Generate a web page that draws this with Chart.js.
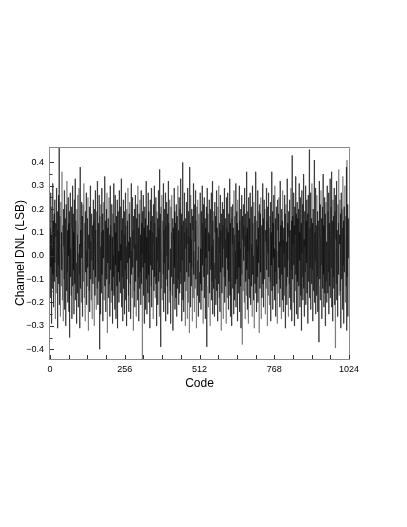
<!DOCTYPE html>
<html>
<head>
<meta charset="utf-8">
<title>Channel DNL</title>
<script src="https://cdn.jsdelivr.net/npm/chart.js@4/dist/chart.umd.min.js"></script>
<style>
  html, body { margin: 0; padding: 0; background: #fff; }
  canvas { display: block; }
</style>
</head>
<body>
<canvas id="dnl-chart" width="407" height="527"></canvas>
<script>
// Channel DNL per code (LSB), codes 0..1023
const dnl = [
  0.12, -0.18, 0.27, -0.05, 0.09, -0.29, 0.21, 0.03, -0.14, 0.31, -0.08, 0.15, -0.22, 0.06, 0.18, -0.11,
  0.24, -0.03, -0.27, 0.14, 0.08, -0.16, 0.29, -0.09, 0.02, 0.19, -0.31, 0.11, -0.04, 0.26, -0.12, 0.52,
  -0.21, 0.07, 0.17, -0.26, 0.05, 0.23, -0.13, 0.10, -0.06, 0.36, -0.19, 0.01, 0.13, -0.28, 0.20, 0.04,
  -0.10, 0.28, -0.23, 0.09, 0.16, -0.02, -0.30, 0.22, 0.06, -0.15, 0.32, -0.07, 0.11, -0.20, 0.25, 0.00,
  0.14, -0.24, 0.19, -0.35, 0.08, 0.27, -0.09, 0.03, -0.17, 0.21, 0.12, -0.27, 0.05, 0.30, -0.13, 0.18,
  -0.06, 0.10, -0.25, 0.24, 0.02, -0.12, 0.33, -0.19, 0.07, 0.15, -0.03, -0.29, 0.20, 0.09, -0.16, 0.26,
  0.01, -0.22, 0.13, 0.29, -0.08, 0.05, -0.31, 0.38, -0.14, 0.11, 0.04, -0.20, 0.23, -0.01, 0.17, -0.26,
  0.08, 0.22, -0.11, -0.03, 0.31, -0.18, 0.06, 0.14, -0.28, 0.19, -0.07, 0.10, 0.27, -0.21, 0.02, -0.13,
  0.16, -0.05, 0.25, -0.32, 0.09, 0.03, -0.15, 0.21, -0.24, 0.12, 0.30, -0.10, 0.06, -0.19, 0.18, -0.02,
  -0.27, 0.13, 0.07, -0.12, 0.24, -0.06, 0.15, -0.30, 0.20, 0.01, -0.17, 0.28, -0.09, 0.11, -0.23, 0.05,
  0.19, -0.14, 0.32, -0.04, -0.21, 0.09, 0.14, -0.11, 0.26, -0.07, -0.40, 0.17, 0.04, -0.25, 0.22, 0.10,
  -0.16, 0.29, -0.08, 0.02, 0.18, -0.28, 0.11, -0.01, 0.23, -0.19, 0.06, 0.34, -0.13, -0.05, 0.15, -0.24,
  0.07, 0.20, -0.10, 0.27, -0.33, 0.12, -0.03, 0.16, -0.18, 0.04, 0.25, -0.12, 0.09, -0.26, 0.30, -0.06,
  0.13, -0.20, 0.03, 0.22, -0.15, 0.08, -0.29, 0.18, 0.00, -0.09, 0.31, -0.17, 0.14, 0.05, -0.23, 0.26,
  -0.04, 0.10, -0.27, 0.17, 0.06, -0.13, 0.24, -0.31, 0.09, 0.19, -0.07, 0.02, -0.20, 0.28, -0.11, 0.12,
  0.21, -0.16, 0.05, -0.02, 0.33, -0.22, 0.11, -0.09, 0.16, -0.28, 0.07, 0.24, -0.14, 0.01, 0.19, -0.25,
  0.09, -0.06, 0.27, -0.19, 0.13, 0.04, -0.30, 0.20, -0.10, 0.15, -0.03, 0.29, -0.17, 0.06, -0.24, 0.18,
  -0.01, 0.23, -0.12, 0.08, -0.27, 0.14, 0.31, -0.08, 0.02, -0.18, 0.25, -0.05, 0.11, -0.32, 0.17, 0.03,
  -0.15, 0.20, -0.22, 0.10, 0.26, -0.11, 0.05, -0.26, 0.16, -0.02, 0.22, 0.07, -0.19, 0.30, -0.09, 0.12,
  -0.28, 0.18, 0.03, -0.14, 0.24, -0.07, 0.09, -0.21, 0.28, -0.12, 0.14, 0.01, -0.50, 0.19, -0.05, 0.26,
  -0.17, 0.07, 0.12, -0.29, 0.21, -0.03, 0.16, -0.23, 0.04, 0.32, -0.10, 0.08, -0.25, 0.13, 0.02, -0.16,
  0.27, -0.08, 0.19, -0.20, 0.06, 0.11, -0.31, 0.24, -0.04, 0.15, -0.13, 0.29, -0.22, 0.03, 0.17, -0.06,
  0.10, -0.27, 0.22, 0.05, -0.15, 0.30, -0.09, 0.14, -0.18, 0.01, 0.25, -0.12, 0.08, -0.30, 0.19, -0.02,
  0.16, -0.21, 0.06, 0.28, -0.11, 0.12, -0.26, 0.37, -0.07, 0.18, 0.02, -0.39, 0.21, -0.14, 0.09, 0.26,
  -0.19, 0.04, 0.15, -0.08, 0.31, -0.24, 0.11, -0.03, 0.20, -0.16, 0.07, 0.27, -0.28, 0.13, -0.10, 0.23,
  0.00, -0.13, 0.18, -0.25, 0.09, 0.32, -0.06, 0.14, -0.20, 0.05, 0.24, -0.15, 0.03, -0.29, 0.21, 0.10,
  -0.09, 0.26, -0.17, 0.02, 0.16, -0.32, 0.12, 0.07, -0.12, 0.29, -0.05, 0.19, -0.23, 0.08, 0.14, -0.18,
  0.22, -0.04, -0.26, 0.17, 0.05, -0.14, 0.30, -0.10, 0.11, -0.21, 0.25, 0.01, -0.16, 0.20, -0.07, 0.33,
  -0.12, 0.06, 0.18, -0.28, 0.13, -0.02, 0.40, -0.19, 0.09, 0.15, -0.24, 0.04, 0.27, -0.11, 0.10, -0.30,
  0.16, 0.03, -0.15, 0.23, -0.07, 0.12, -0.27, 0.29, 0.05, -0.20, 0.19, -0.09, 0.08, -0.33, 0.38, -0.03,
  0.14, -0.22, 0.26, 0.07, -0.13, 0.20, -0.05, -0.28, 0.17, 0.11, -0.18, 0.31, -0.08, 0.02, -0.24, 0.22,
  0.06, -0.14, 0.28, -0.10, 0.15, -0.31, 0.09, 0.21, -0.02, -0.17, 0.24, 0.04, -0.26, 0.13, 0.18, -0.07,
  -0.20, 0.11, 0.27, -0.12, 0.03, -0.23, 0.19, 0.08, -0.15, 0.30, -0.04, 0.14, -0.29, 0.22, 0.01, -0.09,
  0.25, -0.18, 0.07, 0.16, -0.27, 0.12, -0.01, 0.21, -0.13, -0.39, 0.29, 0.05, -0.08, 0.18, -0.22, 0.10,
  0.02, 0.24, -0.16, 0.09, -0.30, 0.20, 0.13, -0.06, 0.27, -0.19, 0.04, -0.11, 0.32, -0.25, 0.15, 0.07,
  -0.14, 0.19, -0.03, -0.26, 0.23, 0.10, -0.10, 0.17, -0.21, 0.06, 0.28, -0.15, 0.12, -0.02, -0.28, 0.21,
  0.08, -0.12, 0.30, -0.18, 0.14, 0.01, -0.24, 0.26, -0.07, 0.11, -0.32, 0.18, 0.05, -0.16, 0.23, -0.05,
  0.13, -0.27, 0.20, 0.03, -0.09, 0.29, -0.20, 0.09, 0.16, -0.13, 0.07, -0.29, 0.25, -0.01, 0.12, -0.18,
  0.27, -0.06, 0.10, -0.23, 0.18, -0.11, 0.04, 0.33, -0.17, 0.14, -0.26, 0.06, 0.21, -0.09, -0.30, 0.16,
  0.05, 0.22, -0.14, 0.12, -0.04, -0.25, 0.28, 0.09, -0.19, 0.17, 0.02, -0.12, 0.31, -0.22, 0.08, 0.19,
  -0.10, 0.14, -0.28, 0.24, 0.06, -0.16, 0.11, -0.05, 0.30, -0.24, 0.15, 0.03, -0.13, 0.20, -0.31, 0.10,
  0.26, -0.08, -0.38, 0.17, 0.07, -0.15, 0.22, -0.02, 0.13, -0.20, 0.29, 0.04, -0.27, 0.18, -0.11, 0.09,
  -0.17, 0.36, -0.06, 0.12, -0.23, 0.19, 0.02, -0.29, 0.25, -0.10, 0.08, 0.16, -0.18, 0.27, -0.04, -0.21,
  0.11, 0.21, -0.13, 0.05, -0.26, 0.30, -0.08, 0.14, 0.00, -0.19, 0.23, -0.31, 0.10, 0.17, -0.12, 0.26,
  0.36, -0.16, 0.07, -0.24, 0.15, 0.04, -0.09, 0.28, -0.20, 0.12, -0.03, 0.19, -0.33, 0.22, 0.06, -0.14,
  0.18, -0.07, 0.25, -0.27, 0.09, 0.13, -0.18, 0.03, 0.31, -0.12, 0.16, -0.22, 0.05, 0.24, -0.10, -0.02,
  0.20, -0.25, 0.11, 0.06, -0.14, 0.29, -0.06, 0.15, -0.30, 0.21, 0.01, -0.17, 0.27, -0.09, 0.12, -0.21,
  0.08, 0.17, -0.11, 0.23, -0.28, 0.10, -0.04, 0.36, -0.15, 0.05, 0.19, -0.23, 0.14, -0.01, 0.26, -0.13,
  0.03, -0.19, 0.30, -0.07, 0.16, -0.26, 0.09, 0.21, -0.12, 0.02, -0.29, 0.24, 0.11, -0.16, 0.18, -0.05,
  0.25, -0.10, 0.06, -0.22, 0.32, -0.14, 0.13, 0.04, -0.27, 0.20, -0.08, 0.15, -0.19, 0.28, 0.07, -0.24,
  0.12, 0.01, -0.17, 0.26, -0.05, 0.18, -0.31, 0.10, 0.22, -0.13, 0.06, -0.21, 0.33, -0.09, 0.14, -0.02,
  -0.26, 0.19, 0.08, -0.12, 0.24, -0.18, 0.11, 0.02, -0.23, 0.29, -0.06, 0.15, -0.28, 0.43, -0.10, 0.17,
  0.05, -0.20, 0.27, -0.04, 0.13, -0.30, 0.21, 0.09, -0.15, 0.34, -0.08, 0.18, -0.25, 0.07, 0.23, -0.11,
  0.16, -0.27, 0.03, 0.20, -0.13, 0.31, -0.02, 0.10, -0.22, 0.25, 0.06, -0.17, 0.14, -0.32, 0.28, 0.01,
  -0.09, 0.22, -0.19, 0.12, 0.35, -0.14, 0.07, -0.26, 0.19, 0.04, -0.07, 0.30, -0.21, 0.15, -0.03, 0.24,
  -0.16, 0.09, 0.18, -0.29, 0.26, 0.02, -0.11, 0.21, 0.455, -0.18, 0.12, -0.05, 0.27, -0.23, 0.08, 0.16,
  -0.12, 0.31, -0.06, 0.14, -0.28, 0.20, 0.05, -0.15, 0.24, 0.41, -0.20, 0.10, -0.02, 0.29, -0.25, 0.13,
  0.07, -0.17, 0.26, -0.09, 0.19, -0.24, 0.15, 0.03, -0.13, -0.37, 0.32, 0.08, -0.10, 0.22, -0.19, 0.11,
  0.28, -0.04, 0.16, -0.27, 0.09, 0.21, -0.14, 0.35, -0.08, 0.13, -0.22, 0.04, 0.25, -0.16, 0.18, -0.30,
  0.12, 0.23, -0.11, 0.06, -0.20, 0.30, 0.02, -0.16, 0.19, -0.07, 0.27, -0.25, 0.14, 0.08, -0.13, 0.33,
  -0.18, 0.10, 0.21, -0.05, 0.36, -0.22, 0.15, 0.04, -0.28, 0.24, -0.09, 0.17, -0.14, 0.29, 0.03, -0.21,
  0.19, -0.395, 0.26, 0.07, -0.12, 0.32, -0.19, 0.11, 0.00, -0.26, 0.22, 0.14, -0.08, 0.37, -0.17, 0.09,
  0.05, 0.24, -0.15, 0.18, -0.31, 0.27, 0.06, -0.10, 0.20, 0.12, -0.23, 0.34, -0.04, 0.15, -0.29, 0.21,
  -0.07, 0.13, 0.30, -0.20, 0.08, 0.17, -0.13, 0.38, -0.32, 0.41, -0.09, 0.22, -0.26, 0.16, 0.04, -0.01
];

// Axis ticks
const xTickValues = [0, 256, 512, 768, 1024];
const xTickLabels = ['0', '256', '512', '768', '1024'];
const xTickMarks = [0, 64, 128, 192, 256, 320, 384, 448, 512, 576, 640, 704, 768, 832, 896, 960, 1024];
const yTickValues = [-0.4, -0.3, -0.2, -0.1, 0, 0.1, 0.2, 0.3, 0.4];
const yTickLabels = ['\u22120.4', '\u22120.3', '\u22120.2', '\u22120.1', '0.0', '0.1', '0.2', '0.3', '0.4'];
const yTickMarks = [-0.4, -0.35, -0.3, -0.25, -0.2, -0.15, -0.1, -0.05, 0, 0.05, 0.1, 0.15, 0.2, 0.25, 0.3, 0.35, 0.4];

Chart.defaults.font.family = "'Liberation Sans', Arial, Helvetica, sans-serif";
Chart.defaults.color = '#000';

// Box round the plot area plus short inward tick marks
const frameAndTicks = {
    id: 'frameAndTicks',
    afterDatasetsDraw(chart) {
        const { ctx, chartArea: a, scales: { x, y } } = chart;
        ctx.save();
        ctx.strokeStyle = '#8a8a8a';
        ctx.lineWidth = 1;
        ctx.strokeRect(Math.round(a.left) - 0.5, Math.round(a.top) + 0.5,
            Math.round(a.right - a.left) + 1, Math.round(a.bottom - a.top));

        ctx.strokeStyle = '#333';
        ctx.beginPath();
        xTickMarks.forEach(v => {
            const px = Math.round(x.getPixelForValue(v)) + 0.5;
            ctx.moveTo(px, a.bottom);
            ctx.lineTo(px, a.bottom - 4);
        });
        yTickMarks.forEach((v, i) => {
            const py = Math.round(y.getPixelForValue(v)) + 0.5;
            const len = i % 2 === 0 ? 4 : 2.5;
            ctx.moveTo(a.left, py);
            ctx.lineTo(a.left + len, py);
        });
        ctx.stroke();
        ctx.restore();
    }
};

const ctx = document.getElementById('dnl-chart').getContext('2d');

new Chart(ctx, {
    type: 'line',
    data: {
        datasets: [{
            data: dnl.map((v, i) => ({ x: i, y: v })),
            borderColor: 'rgba(0,0,0,0.36)',
            borderWidth: 1,
            pointRadius: 0,
            tension: 0,
            fill: false,
            // alternate a hair of alpha so each segment is stroked on its own
            // and overlapping strokes darken like the original
            segment: {
                borderColor: c => c.p0DataIndex % 2 ? 'rgba(0,0,0,0.36)' : 'rgba(0,0,0,0.361)'
            }
        }]
    },
    options: {
        responsive: false,
        animation: false,
        devicePixelRatio: 1,
        parsing: false,
        layout: {
            padding: { left: 0, right: 58, top: 147, bottom: 136 }
        },
        plugins: {
            legend: { display: false },
            tooltip: { enabled: false }
        },
        scales: {
            x: {
                type: 'linear',
                min: 0,
                max: 1024,
                grid: { display: false, drawTicks: false },
                border: { display: false },
                afterBuildTicks: scale => {
                    scale.ticks = xTickValues.map(v => ({ value: v }));
                },
                afterFit: scale => { scale.height = 32; },
                ticks: {
                    autoSkip: false,
                    maxRotation: 0,
                    padding: 5,
                    font: { size: 9 },
                    callback: (v, i) => xTickLabels[i]
                },
                title: {
                    display: true,
                    text: 'Code',
                    font: { size: 12 },
                    padding: { top: 0, bottom: 0 }
                }
            },
            y: {
                min: -0.442,
                max: 0.466,
                grid: { display: false, drawTicks: false },
                border: { display: false },
                afterBuildTicks: scale => {
                    scale.ticks = yTickValues.map(v => ({ value: v }));
                },
                afterFit: scale => { scale.width = 50; },
                ticks: {
                    autoSkip: false,
                    padding: 6,
                    font: { size: 9 },
                    callback: (v, i) => yTickLabels[i]
                },
                title: {
                    display: true,
                    text: 'Channel DNL (LSB)',
                    font: { size: 12 },
                    padding: { top: 13, bottom: 0 }
                }
            }
        }
    },
    plugins: [frameAndTicks]
});
</script>
</body>
</html>
